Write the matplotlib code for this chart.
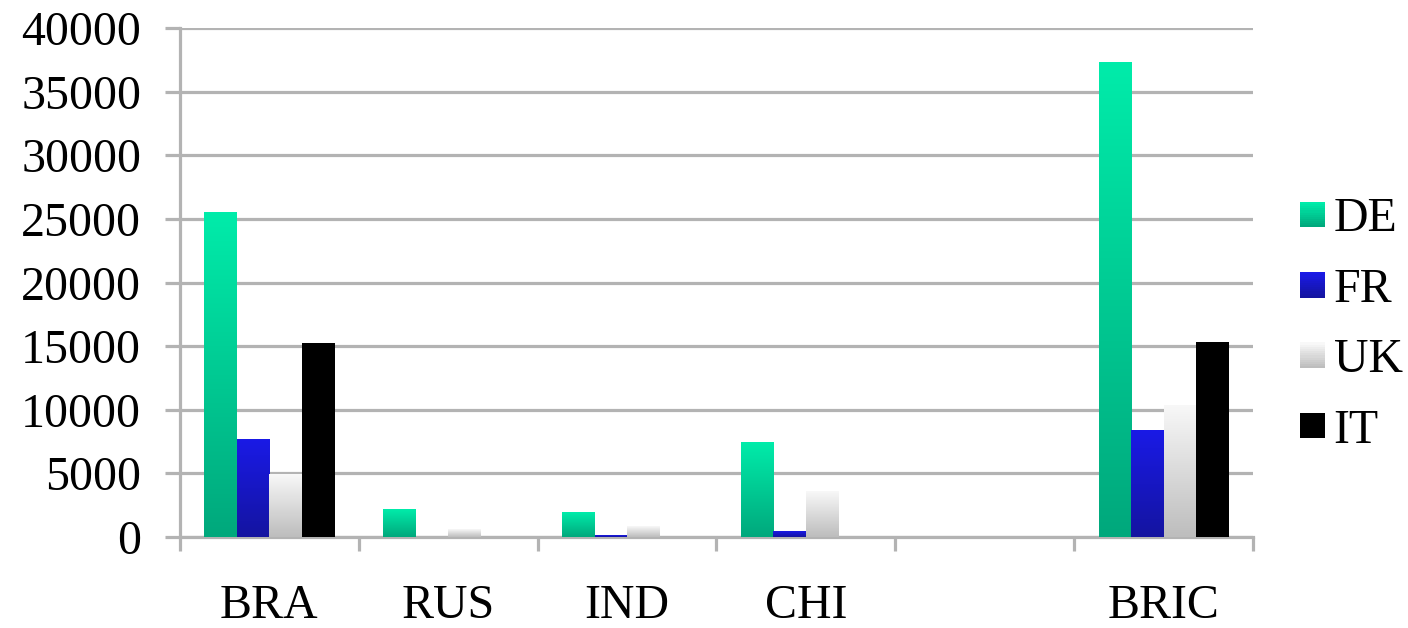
import numpy as np
import matplotlib
matplotlib.use("Agg")
import matplotlib.pyplot as plt
from matplotlib.colors import LinearSegmentedColormap
from matplotlib.patches import Rectangle
from matplotlib.legend_handler import HandlerBase

# ---- data -------------------------------------------------------------
categories = ["BRA", "RUS", "IND", "CHI", "", "BRIC"]
series = ["DE", "FR", "UK", "IT"]
de = [25500, 2150, 1950, 7450, 0, 37300]
fr = [7700, 0, 100, 400, 0, 8400]
uk = [4900, 600, 850, 3550, 0, 10300]
it = [15200, 0, 0, 0, 0, 15250]
yticks = [0, 5000, 10000, 15000, 20000, 25000, 30000, 35000, 40000]

values = [de, fr, uk, it]
# (top colour, bottom colour) for each series' vertical gradient
gradients = [
    ("#00ecaa", "#00a87c"),
    ("#1a1ae6", "#1414a0"),
    ("#f8f8f8", "#bdbdbd"),
    ("#000000", "#000000"),
]

plt.rcParams["font.family"] = ["Liberation Serif", "DejaVu Serif"]
FS = 34.5
GRID = "#b3b3b3"

fig = plt.figure(figsize=(14.08, 6.28), dpi=100)
ax = fig.add_axes([180 / 1408, 1 - 537 / 628, (1253 - 180) / 1408, (537 - 28) / 628])

n_cat = len(categories)
n_ser = len(series)
w = 1 / (n_ser + 1.5)
x = np.arange(n_cat)

cmaps = [LinearSegmentedColormap.from_list(s, [b, t]) for s, (t, b) in zip(series, gradients)]
grad = np.linspace(0, 1, 256).reshape(-1, 1)

for j, (vals, cmap) in enumerate(zip(values, cmaps)):
    for i, v in enumerate(vals):
        if v <= 0:
            continue
        x0 = x[i] + (j - 1.5) * w - w / 2
        ax.imshow(grad, cmap=cmap, extent=[x0, x0 + w, 0, v], origin="lower",
                  aspect="auto", zorder=3, interpolation="bilinear")

ax.set_xlim(-0.5, n_cat - 0.5)
ax.set_ylim(0, 40000)
ax.set_aspect("auto")

# gridlines and axes
ax.set_yticks(yticks)
ax.set_yticklabels([str(t) for t in yticks], fontsize=FS)
ax.yaxis.grid(True, color=GRID, linewidth=2.3, zorder=1)
ax.set_axisbelow(True)
ax.tick_params(axis="y", length=11, width=2.3, color=GRID, pad=17)

ax.set_xticks(x)
ax.set_xticklabels(categories, fontsize=FS)
ax.set_xticks(np.arange(n_cat + 1) - 0.5, minor=True)
ax.tick_params(axis="x", which="major", length=0, pad=34)
ax.tick_params(axis="x", which="minor", length=10, width=2.3, color=GRID)

for side in ("top", "right"):
    ax.spines[side].set_visible(False)
for side in ("left", "bottom"):
    ax.spines[side].set_color(GRID)
    ax.spines[side].set_linewidth(2.3)


class GradientHandler(HandlerBase):
    def __init__(self, top, bottom, **kw):
        super().__init__(**kw)
        self.cm = LinearSegmentedColormap.from_list("h", [bottom, top])

    def create_artists(self, legend, orig, xd, yd, width, height, fontsize, trans):
        size = width
        x0 = xd
        y0 = yd + (height - size) / 2
        parts = []
        n = 12
        for k in range(n):
            parts.append(Rectangle((x0, y0 + size * k / n), size, size / n + 0.3,
                                   facecolor=self.cm(k / (n - 1)), edgecolor="none",
                                   transform=trans))
        return parts


handles = [Rectangle((0, 0), 1, 1) for _ in series]
handler_map = {h: GradientHandler(t, b) for h, (t, b) in zip(handles, gradients)}
fig.legend(handles, series, handler_map=handler_map, loc="center left",
           bbox_to_anchor=(1300 / 1408, 1 - 325 / 628), frameon=False, fontsize=FS,
           handlelength=0.53, handletextpad=0.17, labelspacing=0.55, borderpad=0,
           borderaxespad=0)

fig.savefig("out.png", dpi=100)
